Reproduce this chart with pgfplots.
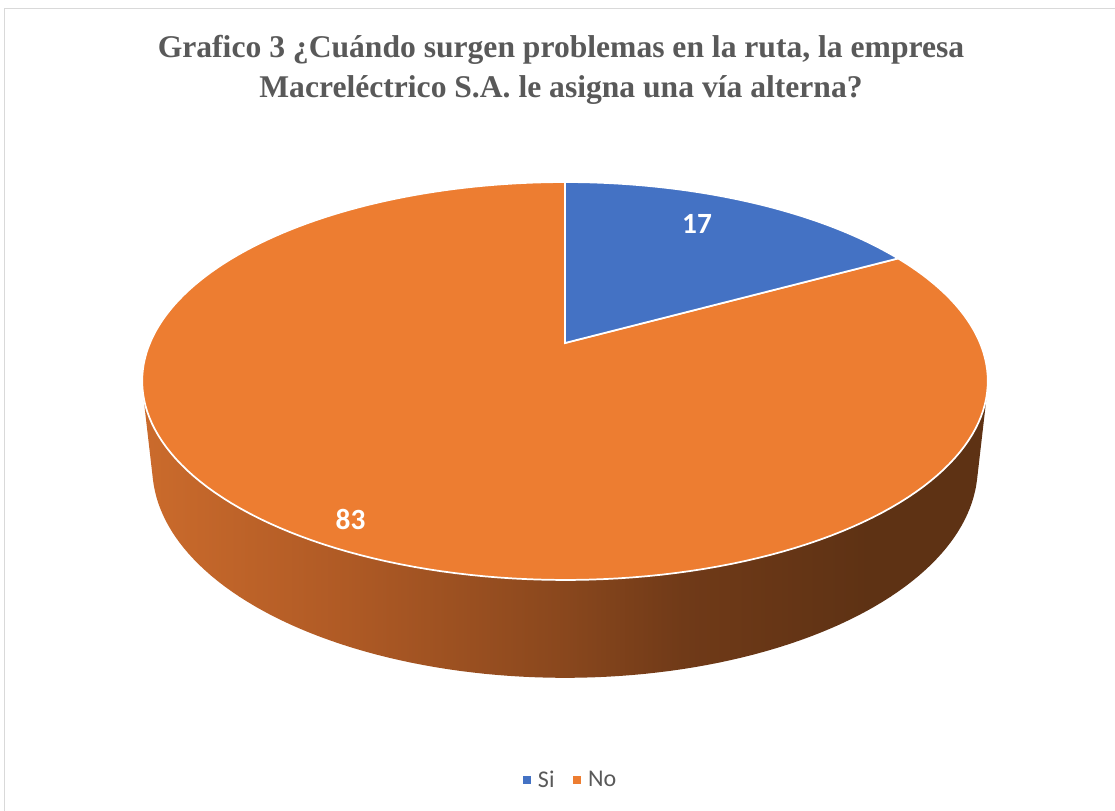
\documentclass[border=0pt]{standalone}
\usepackage{pgfplots}
\pgfplotsset{compat=1.18}
\usepackage{pgfplotstable}
\usepackage{fontspec}
\setmainfont{Liberation Serif}
\newfontfamily\carlito{Carlito}
\definecolor{siblue}{HTML}{4472C4}
\definecolor{noorange}{HTML}{ED7D31}
\definecolor{titlegray}{HTML}{595959}
\definecolor{framegray}{HTML}{D9D9D9}
\definecolor{sA}{RGB}{203,107,44}
\definecolor{sB}{RGB}{175,90,37}
\definecolor{sC}{RGB}{137,71,29}
\definecolor{sD}{RGB}{112,58,24}
\definecolor{sE}{RGB}{94,50,20}
\pgfdeclarehorizontalshading{pieside}{100bp}{color(0bp)=(sA); color(25bp)=(sA); color(37bp)=(sB); color(50bp)=(sC); color(57bp)=(sD); color(68bp)=(sE); color(100bp)=(sE)}

\pgfplotstableread{
label value
Si 17
No 83
}\piedata

\begin{document}%
\begin{tikzpicture}
\pgfplotstablegetelem{0}{value}\of\piedata \let\vSi\pgfplotsretval
\pgfplotstablegetelem{1}{value}\of\piedata \let\vNo\pgfplotsretval
\pgfmathsetmacro\tA{90-360*\vSi/(\vSi+\vNo)}
\pgfmathsetmacro\tB{\tA+360}
\def\Ff{1927}\def\Dd{4.643}\def\cp{0.8869}\def\sp{0.4619}\def\Hh{0.2365}
\def\TA{194.05}\def\TB{345.95}
\begin{axis}[
  scale only axis, width=836.25pt, height=608.25pt,
  xmin=0, xmax=1115, ymin=0, ymax=811,
  hide axis,
  declare function={
    dep(\t,\z)=\Dd+sin(\t)*\cp-\z*\sp;
    PX(\t,\z)=565+\Ff*cos(\t)/dep(\t,\z);
    PY(\t,\z)=468+\Ff*(sin(\t)*\sp+\z*\cp)/dep(\t,\z);
    tt(\s)=(\s<1) ? (\TA+(\TB-\TA)*\s) : ((\s<2) ? \TB : (\TB+(\TA-\TB)*(\s-2)));
    zz(\s)=(\s<1) ? 0 : ((\s<2) ? (-\Hh*(\s-1)) : (-\Hh));
  },
  legend image code/.code={\fill[#1, draw=none] (0pt,-3pt) rectangle (6pt,3pt); \path (9pt,0pt);},
  legend style={draw=none, fill=none, font=\carlito\fontsize{18}{21}\selectfont, text=titlegray,
    legend columns=2, /tikz/every even column/.append style={column sep=12pt},
    at={(axis cs:571,31)}, anchor=center},
]
% frame
\draw[framegray, line width=1.2pt] (axis cs:4.5,0) -- (axis cs:4.5,802.5) -- (axis cs:1115,802.5);
% side
\addplot[forget plot, draw=none, shade, shading=pieside, domain=0:3, samples=301, variable=\s]
  ({PX(tt(\s),zz(\s))},{PY(tt(\s),zz(\s))}) -- cycle;
% No slice top
\addplot[forget plot, fill=noorange, draw=white, line width=1.3pt, domain=90:\tB, samples=181, variable=\t]
  ({PX(\t,0)},{PY(\t,0)}) -- (axis cs:565,468) -- cycle;
% Si slice top
\addplot[forget plot, fill=siblue, draw=white, line width=1.3pt, domain=\tA:90, samples=61, variable=\t]
  ({PX(\t,0)},{PY(\t,0)}) -- (axis cs:565,468) -- cycle;
% labels
\node[text=white, font=\carlito\bfseries\fontsize{22}{24}\selectfont] at (axis cs:697,587) {\vSi};
\node[text=white, font=\carlito\bfseries\fontsize{22}{24}\selectfont] at (axis cs:350.5,292) {\vNo};
% title
\node[anchor=base, text=titlegray, font=\bfseries\fontsize{23.7}{28}\selectfont] at (axis cs:561,753) {Grafico 3 ¿Cuándo surgen problemas en la ruta, la empresa};
\node[anchor=base, text=titlegray, font=\bfseries\fontsize{23.7}{28}\selectfont] at (axis cs:561,713) {Macreléctrico S.A. le asigna una vía alterna?};
% legend
\addlegendimage{fill=siblue}
\addlegendentry{Si}
\addlegendimage{fill=noorange}
\addlegendentry{No}
\end{axis}
\pgfresetboundingbox
\useasboundingbox (current axis.south west) rectangle (current axis.north east);
\end{tikzpicture}%
\end{document}
